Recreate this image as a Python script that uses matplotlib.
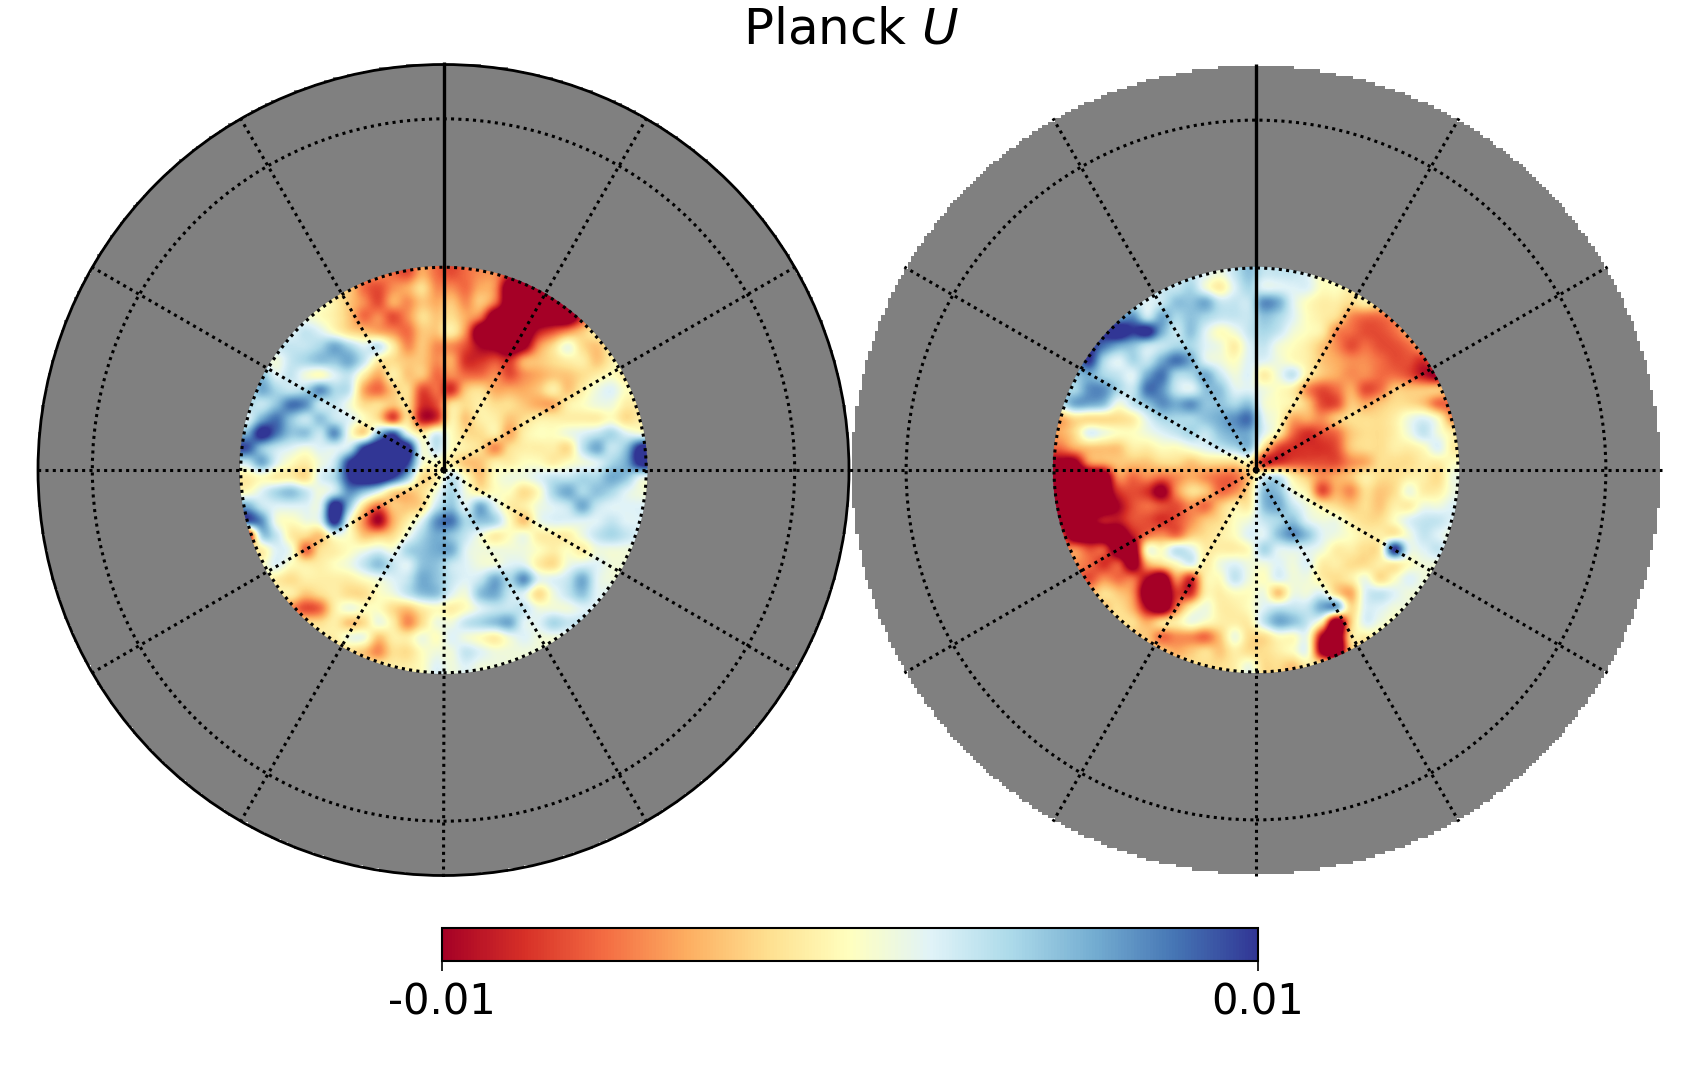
import numpy as np
import matplotlib
matplotlib.use("Agg")
import matplotlib.pyplot as plt
from matplotlib.colors import ListedColormap
from matplotlib.cm import ScalarMappable
from matplotlib.colors import Normalize
from matplotlib.patches import Circle

# values, in units of 0.001 (north cap on a square grid)
# anything past +-10 is saturated in the colour bar
left_cap = [
[-5,-5,-5,-5,-5,-5,-5,-5,-5,-5,-6,-7,-4,-6,-7,-6,-5,-5,-8,-8,-8,-8,-8,-8,-8,-8,-8,-8],
[-3,-3,-3,-3,-3,-3,-3,-3,-6,-7,-5,-4,-2,-5,-5,-6,-4,-5,-13,-13,-13,-13,-13,-10,-10,-10,-10,-10],
[0,0,0,0,0,0,-1,-3,-5,-7,-4,-5,-3,-4,-3,-5,-3,-6,-13,-13,-13,-13,-10,-8,-8,-8,-8,-8],
[2,2,2,2,1,0,-1,-3,-6,-5,-7,-5,-2,-3,-2,-4,-6,-13,-13,-13,-13,-13,-13,-8,-3,-3,-3,-3],
[3,3,3,2,3,2,0,-2,-3,-4,-5,-6,-3,-3,-1,-5,-13,-13,-13,-13,-9,-7,-5,-3,-1,-1,-1,-1],
[3,3,3,3,3,4,6,4,2,3,-1,-5,-3,-5,-5,-7,-10,-11,-13,-11,-5,-2,1,-2,-3,-1,0,0],
[2,2,1,3,4,5,5,6,3,-1,-2,-3,-3,-5,-4,-8,-8,-7,-8,-4,-3,-2,-1,-1,-3,-1,1,1],
[4,5,2,3,1,0,2,3,-1,-4,-1,-3,-3,-6,-5,-6,-6,-5,-7,-5,-4,-3,-3,-2,-1,0,-1,0],
[3,6,4,3,4,7,4,3,-4,-6,-3,-2,-7,-6,-8,-3,-2,-4,-4,-4,-3,-1,-3,-1,1,2,0,0],
[4,3,5,8,7,3,3,1,-2,-2,-3,-2,-8,-7,-2,-2,-1,-2,-2,-3,-4,-4,-1,0,1,1,-1,-1],
[2,6,8,5,3,5,3,2,0,-2,-7,-2,-9,-8,-1,-3,-1,-1,-3,-2,-1,-1,-1,-1,-1,0,-2,-1],
[6,11,8,5,5,3,7,1,-2,5,9,2,-1,2,0,-2,-2,-1,-4,-1,0,0,1,2,3,4,2,1],
[9,5,3,2,1,2,2,3,10,13,13,12,1,3,0,-1,-2,-5,-2,-1,-1,-1,-2,3,6,3,5,11],
[3,6,2,0,-1,1,3,10,13,13,13,10,1,0,-1,-3,-3,-1,-1,0,0,-1,0,1,2,4,6,11],
[-1,0,-1,-1,-2,2,4,10,13,13,10,5,-2,-1,3,0,-3,0,1,1,2,3,3,4,4,6,5,2],
[0,2,4,5,3,1,3,7,5,2,-2,-3,-2,1,4,1,-1,0,0,-2,0,4,6,4,5,4,2,1],
[6,3,2,2,2,2,12,5,-2,-6,-3,-3,-2,3,5,2,6,2,-1,-1,1,2,3,6,3,2,2,2],
[9,7,1,0,1,2,11,1,-5,-10,-4,-1,2,7,8,4,5,4,0,-3,1,2,2,2,2,3,2,2],
[-10,4,3,-1,-2,-3,1,0,-3,-3,-2,1,4,6,5,3,1,-1,0,1,-1,-1,-1,1,3,4,3,2],
[-1,-1,2,1,-6,-2,-1,0,1,2,1,4,5,6,6,2,1,1,1,1,0,-1,0,-1,1,1,1,1],
[0,0,2,0,-1,-1,0,1,3,5,3,2,5,5,3,2,1,1,2,2,-1,-2,1,2,2,1,1,1],
[0,0,-1,-2,-1,-1,-1,-1,0,1,2,3,6,5,3,2,3,6,4,7,2,2,3,6,2,1,1,1],
[-1,-1,-1,-1,-3,-2,-1,-2,-2,0,1,3,5,5,2,1,5,6,3,2,-2,1,3,5,2,2,2,2],
[-5,-5,-5,-5,-7,-6,-1,1,0,0,-2,-3,-1,0,-1,0,2,3,3,3,1,1,1,2,2,2,2,2],
[-2,-2,-2,-2,-2,-2,-1,-3,-2,1,-1,-5,-2,1,1,3,4,5,6,2,2,4,3,3,3,3,3,3],
[-1,-1,-1,-1,-1,-1,-1,1,1,-3,-1,-1,1,0,2,1,0,-1,1,2,1,1,1,1,1,1,1,1],
[-3,-3,-3,-3,-3,-3,-3,-2,-3,-5,-2,-2,0,1,1,3,2,1,1,1,1,1,1,1,1,1,1,1],
[-1,-1,-1,-1,-1,-1,-1,-1,-1,-1,-1,-1,0,2,1,2,1,1,1,1,1,1,1,1,1,1,1,1],
]

right_cap = [
[3,3,3,3,3,3,3,3,3,3,2,1,3,5,3,3,3,2,0,0,0,0,0,0,0,0,0,0],
[3,3,3,3,3,3,3,3,3,4,1,-1,2,4,2,2,2,2,0,0,-1,-1,-1,-1,-1,-1,-1,-1],
[3,3,3,3,3,3,2,3,5,5,6,3,3,3,7,6,2,0,-1,-1,-2,-1,-2,-2,-2,-2,-2,-2],
[5,5,5,5,6,7,3,6,4,5,4,3,3,3,5,4,2,0,-1,-2,-5,-6,-6,-5,-3,-3,-3,-3],
[8,8,8,10,12,10,11,6,3,5,2,0,1,3,4,3,1,0,-1,-5,-6,-7,-7,-6,-4,-3,-3,-3],
[10,10,10,8,6,5,3,3,4,4,2,1,-1,2,3,1,0,-1,-3,-5,-7,-6,-7,-7,-6,-4,-5,-5],
[7,7,10,4,2,4,3,6,8,6,2,1,0,2,2,1,0,-1,-3,-4,-5,-5,-6,-7,-7,-8,-5,-5],
[6,5,6,4,3,2,6,8,4,4,6,3,1,2,-1,1,3,-1,-3,-4,-5,-5,-6,-6,-7,-9,-10,-6],
[5,4,7,7,4,3,8,7,3,2,5,5,2,2,1,0,-1,-5,-7,-6,-4,-7,-6,-3,-3,-3,-3,-4],
[3,6,6,5,1,3,5,7,6,7,5,5,4,5,1,0,-1,-3,-7,-7,-3,-4,-3,-2,-2,-3,-6,-6],
[-4,-2,-2,-2,-2,-1,2,4,4,4,5,6,7,8,2,0,-4,-4,-5,-3,-2,-2,-2,-1,1,2,0,-5],
[-4,-2,2,1,0,0,1,2,3,4,3,5,6,6,2,-1,-6,-8,-7,-6,-3,-2,-2,-1,1,3,1,-1],
[-6,-4,-3,-3,-3,-1,-1,0,0,1,2,3,4,5,-2,-7,-8,-8,-8,-7,-3,-2,-2,-1,-1,0,2,-1],
[-11,-11,-5,-4,-3,-3,-3,-2,-2,-3,-2,-2,-2,-1,-8,-8,-7,-7,-7,-7,-5,-4,-2,-2,-2,-1,-1,0],
[-14,-14,-14,-13,-5,-6,-5,-6,-5,-4,-5,-6,-6,-3,2,3,-1,-3,-5,-4,-3,-1,-2,-2,-1,-1,-2,1],
[-14,-14,-14,-13,-8,-7,-8,-11,-5,-2,-3,-6,-5,-2,5,5,1,-1,-7,-4,-5,-2,-3,-2,1,-1,-1,1],
[-14,-14,-14,-13,-10,-7,-6,-7,-7,-5,-6,-3,-1,-1,5,6,3,1,-1,-2,-3,-2,-3,-1,-1,1,1,2],
[-11,-13,-11,-9,-9,-7,-7,-8,-7,-5,-3,-2,0,1,3,4,5,2,1,1,-1,-2,-2,0,2,3,3,2],
[-7,-13,-13,-13,-13,-9,-6,-5,-6,-3,-2,-1,0,2,2,5,7,5,2,1,0,-1,-1,-1,1,3,2,1],
[-6,-5,-7,-7,-13,-13,0,0,3,2,-1,-1,-1,0,4,2,2,2,1,-1,-1,-2,-1,10,2,2,3,1],
[-5,-5,-6,-8,-7,-12,-4,-2,0,2,-1,1,2,1,1,2,1,2,-1,-1,-2,-2,-1,-1,0,1,1,1],
[-6,-6,-7,-5,-6,-6,-10,-13,-5,-8,-1,0,3,1,0,2,1,1,-1,-2,-1,1,-2,0,2,1,1,1],
[-4,-4,-4,-2,-3,-5,-13,-14,-8,-8,-1,-1,0,0,1,-3,1,1,2,-2,-4,2,3,2,1,1,1,1],
[-3,-3,-3,-3,-2,-4,-10,-13,-6,-1,1,-1,-1,0,2,3,3,3,6,6,-2,2,2,1,1,1,1,1],
[-2,-2,-2,-2,-2,-2,-4,-2,-1,1,0,-1,-1,-1,3,6,5,3,-1,-13,-3,2,1,0,0,0,0,0],
[-3,-3,-3,-3,-3,-3,-3,-6,-5,-5,-6,-3,1,-2,-2,0,0,1,-10,-14,-2,-1,-1,-1,-1,-1,-1,-1],
[-3,-3,-3,-3,-3,-3,-3,-3,-4,-3,-2,-3,-1,-2,-2,-1,0,1,-11,-14,-3,-3,-3,-3,-3,-3,-3,-3],
[-2,-2,-2,-2,-2,-2,-2,-2,-2,-2,-2,-2,-1,1,-2,-2,-3,-1,-1,-1,-1,-1,-1,-1,-1,-1,-1,-1],
]

cbar_ticks = [-0.01, 0.01]
cbar_labels = ["-0.01", "0.01"]
meridians = np.arange(0, 360, 30)
parallels = [30, 60]  # colatitude, degrees

W, H = 1700, 1080
fig = plt.figure(figsize=(W / 100, H / 100), dpi=100)
norm = Normalize(-0.01, 0.01)
cmap = "RdYlBu"
gray = ListedColormap(["#808080"])
dots = (0, (1, 1.4))


def draw_cap(cx, cy, R, cap, outline):
    pad = 420
    ax = fig.add_axes([(cx - pad) / W, 1 - (cy + pad) / H, 2 * pad / W, 2 * pad / H])
    ax.axis("off")

    # healpix-looking blocky gray background
    n = 247
    xx, yy = np.meshgrid(np.linspace(-1, 1, n), np.linspace(-1, 1, n))
    ax.imshow(np.where(np.hypot(xx, yy) <= 1.004, 0.0, np.nan), cmap=gray, extent=(-1, 1, -1, 1),
              interpolation="nearest", origin="lower", zorder=1)

    im = ax.imshow(np.array(cap) * 0.001, cmap=cmap, norm=norm, extent=(-0.503, 0.503, -0.503, 0.503),
                   interpolation="catrom", zorder=2)
    im.set_clip_path(Circle((0, 0), 0.503, transform=ax.transData))
    ax.set_xlim(-pad / R, pad / R)
    ax.set_ylim(-pad / R, pad / R)

    for colat in parallels:
        ax.add_patch(Circle((0, 0), np.sin(np.radians(colat)), fill=False, ec="k", lw=2.2, ls=dots, zorder=3))
    for lon in meridians:
        a = np.radians(lon)
        if lon == 90:
            ax.plot([0, 0], [0, 1.005], color="k", lw=2.4, zorder=4, solid_capstyle="butt")
        else:
            ax.plot([0, 1.005 * np.cos(a)], [0, 1.005 * np.sin(a)], color="k", lw=2.2, ls=dots, zorder=3)
    if outline:
        ax.add_patch(Circle((0, 0), 1.0, fill=False, ec="k", lw=2, zorder=4))


draw_cap(443.5, 470, 405.5, left_cap, True)
draw_cap(1256, 470, 404, right_cap, False)

cax = fig.add_axes([442 / W, 1 - 961 / H, 816 / W, 33 / H])
cb = fig.colorbar(ScalarMappable(norm=norm, cmap=cmap), cax=cax, orientation="horizontal")
cb.set_ticks(cbar_ticks)
cb.set_ticklabels(cbar_labels)
cb.minorticks_off()
cb.outline.set_linewidth(1.5)
cax.tick_params(axis="x", length=7.5, width=1.2, labelsize=30, pad=7)

fig.text(851 / W, 1 - 44 / H, "Planck $U$", fontsize=36, ha="center", va="baseline")

fig.savefig("out.png", dpi=100, facecolor="white")
